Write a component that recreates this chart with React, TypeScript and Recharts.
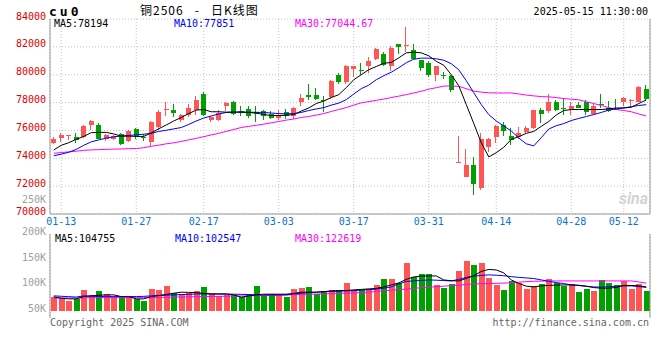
import { Bar, CartesianGrid, ComposedChart, Line, ReferenceLine, XAxis, YAxis } from 'recharts';

const MONO = '"DejaVu Sans Mono", "Liberation Mono", monospace';
const UP = '#ff5555';
const DOWN = '#00a000';
const GRID = '#c0c0c0';
const FRAME = '#999999';

// trading days shown on the chart
const DATES = [
  '01-10', '01-13', '01-14', '01-15', '01-16', '01-17', '01-20', '01-21', '01-22', '01-23',
  '01-24', '01-27', '02-05', '02-06', '02-07', '02-10', '02-11', '02-12', '02-13', '02-14',
  '02-17', '02-18', '02-19', '02-20', '02-21', '02-24', '02-25', '02-26', '02-27', '02-28',
  '03-03', '03-04', '03-05', '03-06', '03-07', '03-10', '03-11', '03-12', '03-13', '03-14',
  '03-17', '03-18', '03-19', '03-20', '03-21', '03-24', '03-25', '03-26', '03-27', '03-28',
  '03-31', '04-01', '04-02', '04-03', '04-07', '04-08', '04-09', '04-10', '04-11', '04-14',
  '04-15', '04-16', '04-17', '04-18', '04-21', '04-22', '04-23', '04-24', '04-25', '04-28',
  '04-29', '04-30', '05-06', '05-07', '05-08', '05-09', '05-12', '05-13', '05-14', '05-15',
];
const TICK_DATES = ['01-13', '01-27', '02-17', '03-03', '03-17', '03-31', '04-14', '04-28', '05-12'];
const PRICE_TICKS = [70000, 72000, 74000, 76000, 78000, 80000, 82000, 84000];
const VOL_TICKS = [50000, 100000, 150000, 200000];
const VOL_GRID = [1, 2, 3];
const VOL_BASE = 50000;

const OPEN = [
  75120, 75450, 75610, 75540, 75500, 76370, 76420, 75350, 75400, 75710,
  75210, 76090, 75540, 75160, 76280, 77450, 77500, 76780, 77140, 77500,
  78590, 76780, 76780, 77730, 78070, 77420, 77540, 77300, 77420, 77210,
  76870, 77300, 77020, 78020, 78570, 78570, 78210, 78400, 80000, 79470,
  80400, 80350, 80590, 81110, 81470, 80590, 82190, 82070, 81780, 81070,
  80830, 79950, 80000, 79920, 73680, 72660, 73500, 71850, 74830, 75520,
  76400, 75570, 75550, 75870, 76190, 77500, 77370, 78040, 77580, 77570,
  77850, 78040, 77210, 77930, 77620, 77570, 78040, 78180, 78050, 79000,
];
const CLOSE = [
  75350, 75690, 75640, 75300, 76350, 76660, 75420, 75690, 75590, 75000,
  75990, 75520, 75440, 76590, 77350, 77550, 77260, 77120, 77640, 78210,
  77120, 76950, 77280, 77950, 77190, 77260, 77020, 77210, 77020, 76900,
  77070, 77070, 77620, 78330, 78400, 78280, 78090, 79520, 79470, 80590,
  80640, 80330, 81020, 81830, 80710, 81950, 81970, 82110, 81140, 80470,
  80000, 80590, 79950, 78920, 73720, 73500, 72140, 75420, 75400, 76350,
  75950, 75300, 75830, 76190, 77450, 77190, 78020, 77450, 77540, 77730,
  77620, 77330, 77730, 77900, 77420, 77520, 78330, 78210, 79090, 78280,
];
const HIGH = [
  75520, 75780, 75690, 75830, 76420, 76780, 76500, 75760, 75690, 75780,
  76060, 76210, 75710, 76660, 77500, 78060, 77880, 77210, 77880, 78450,
  78730, 77020, 77500, 78020, 78140, 77730, 77730, 77730, 77500, 77370,
  77500, 77540, 77690, 78640, 79350, 79020, 78450, 79590, 80110, 80680,
  80640, 80830, 81280, 81900, 81660, 82070, 82210, 83400, 82190, 81070,
  80980, 80590, 80230, 80000, 75590, 74690, 74120, 75780, 75470, 76420,
  76590, 76190, 76230, 76350, 77500, 77620, 78640, 78210, 78330, 78040,
  78020, 78210, 77870, 78640, 78090, 78280, 78380, 78280, 79160, 79230,
];
const LOW = [
  75040, 75160, 75280, 75120, 75450, 76020, 75350, 75210, 75330, 74930,
  75140, 75350, 75210, 74830, 76060, 77020, 76950, 76590, 76930, 77140,
  77020, 76590, 76660, 77380, 77120, 77020, 76900, 76590, 76780, 76830,
  76780, 76830, 76830, 77730, 78210, 78210, 77300, 78280, 79350, 79350,
  79830, 80000, 80110, 81040, 80640, 80300, 81470, 81660, 81140, 80300,
  79830, 79520, 79690, 78760, 73660, 72660, 71350, 71730, 74450, 75120,
  75590, 74920, 75350, 75780, 76070, 76540, 77260, 77370, 77090, 77090,
  77620, 77140, 77090, 77620, 77330, 77450, 77730, 77730, 78050, 78090,
];

const MA5 = [
  74600, 74930, 75120, 75360, 75570, 75840, 75860, 75860, 75750, 75590,
  75590, 75570, 75570, 75820, 76120, 76390, 76680, 76930, 77210, 77460,
  77500, 77340, 77340, 77310, 77320, 77320, 77290, 77250, 77140, 77070,
  77070, 77090, 77140, 77390, 77610, 77930, 78110, 78360, 78570, 79070,
  79640, 80000, 80360, 80590, 80820, 80880, 81210, 81570, 81620, 81570,
  81360, 80960, 80680, 80000, 79210, 77860, 76500, 75120, 74100, 74400,
  74790, 75360, 75550, 75790, 75930, 76290, 76640, 77110, 77430, 77500,
  77500, 77500, 77500, 77500, 77550, 77610, 77620, 77660, 77930, 78190,
];
const MA10 = [
  74180, 74300, 74430, 74640, 74930, 75180, 75320, 75450, 75540, 75600,
  75640, 75690, 75730, 75790, 75930, 76010, 76110, 76210, 76430, 76680,
  76890, 77040, 77180, 77290, 77310, 77310, 77310, 77300, 77290, 77250,
  77210, 77190, 77210, 77290, 77430, 77540, 77640, 77820, 77960, 78210,
  78610, 79000, 79250, 79640, 79930, 80180, 80500, 80860, 81110, 81190,
  81190, 81140, 81040, 80790, 80360, 79570, 78710, 77860, 77140, 76680,
  76320, 75960, 75460, 75040, 74890, 75480, 76100, 76340, 76490, 76710,
  76860, 77000, 77140, 77290, 77460, 77550, 77610, 77710, 77790, 77850,
];
const MA30 = [
  74360, 74410, 74460, 74510, 74570, 74600, 74620, 74640, 74660, 74670,
  74690, 74700, 74760, 74860, 74940, 75040, 75110, 75210, 75320, 75430,
  75550, 75680, 75790, 75930, 76070, 76210, 76290, 76370, 76450, 76550,
  76640, 76740, 76820, 76930, 77000, 77100, 77210, 77360, 77500, 77640,
  77820, 77980, 78070, 78160, 78250, 78360, 78460, 78570, 78690, 78810,
  78960, 79070, 79180, 79200, 79160, 79000, 78820, 78750, 78700, 78690,
  78690, 78690, 78620, 78540, 78480, 78430, 78410, 78360, 78290, 78240,
  78200, 78060, 77930, 77790, 77640, 77500, 77430, 77340, 77180, 77040,
];

const VOL = [
  77600, 75600, 69800, 73100, 91300, 80900, 88700, 82900, 77600, 77600,
  79500, 73100, 69800, 92600, 90700, 98500, 84200, 82900, 84200, 89300,
  96500, 82900, 78400, 80900, 81500, 76400, 82900, 98500, 80900, 82300,
  80900, 77600, 92600, 94600, 96500, 83400, 88700, 90700, 90700, 104300,
  90700, 90700, 92600, 100400, 112100, 112100, 104300, 144000, 115500, 121900,
  121900, 100400, 95200, 102400, 128400, 147300, 139500, 144000, 114700, 100400,
  90700, 108800, 104900, 92600, 99100, 102400, 112100, 103700, 99100, 102400,
  87400, 92600, 89300, 110200, 104900, 100400, 108200, 92600, 101800, 88700,
];
const VOL_MA5 = [
  77200, 74500, 73100, 73100, 77600, 79000, 80300, 80900, 80900, 77600,
  77600, 73100, 73100, 77600, 79500, 81900, 84200, 86200, 85800, 85400,
  83800, 82900, 82900, 82900, 80900, 76400, 79000, 80900, 82300, 82300,
  82300, 82300, 83800, 86200, 86200, 86200, 87200, 88700, 89100, 89300,
  90700, 91600, 92600, 93600, 96500, 100400, 104300, 111200, 116000, 117600,
  118000, 118000, 110200, 108600, 108200, 113100, 118400, 126800, 130700, 129700,
  123900, 110200, 103400, 97900, 96500, 98500, 99400, 100000, 100400, 100400,
  99800, 97900, 95200, 94000, 94000, 95500, 99400, 99400, 98500, 96500,
];
const VOL_MA10 = [
  79000, 78200, 77400, 76600, 79000, 78400, 77800, 77600, 77600, 77600,
  77600, 77600, 78000, 79000, 79700, 80300, 80900, 81500, 82100, 82700,
  82900, 82700, 82500, 82300, 82300, 81900, 81500, 81100, 80900, 80900,
  80900, 80900, 82900, 84200, 85200, 86200, 87200, 87600, 88200, 88700,
  89300, 90300, 91200, 92200, 94000, 96500, 102400, 107300, 108200, 109200,
  110200, 109600, 109000, 108200, 111200, 115100, 117600, 119000, 120000, 119400,
  118400, 116600, 115100, 114100, 112900, 110200, 107500, 104900, 103000, 100400,
  99100, 97700, 96500, 96100, 96900, 97900, 98500, 98500, 97300, 95500,
];
const VOL_MA30 = [
  74500, 74700, 74900, 75000, 75200, 75400, 75600, 75600, 75600, 75600,
  75600, 75600, 75600, 75600, 76000, 76200, 76600, 76800, 77000, 77400,
  77600, 77800, 78000, 78200, 78600, 78800, 79000, 79300, 79700, 79900,
  80300, 80900, 81300, 81700, 82100, 82500, 82900, 83200, 83600, 84200,
  84800, 85200, 86200, 87600, 88900, 90100, 91100, 92200, 93600, 95000,
  96100, 96900, 97900, 98900, 99800, 101400, 102400, 102700, 103100, 103500,
  103900, 104700, 105700, 106900, 107500, 107800, 108200, 108200, 108200, 108200,
  108200, 108200, 108200, 108200, 108200, 108200, 108200, 108200, 106300, 103700,
];

const rows = DATES.map((d, i) => ({
  d,
  o: OPEN[i],
  c: CLOSE[i],
  h: HIGH[i],
  l: LOW[i],
  ma5: MA5[i],
  ma10: MA10[i],
  ma30: MA30[i],
  v: VOL[i],
  v5: VOL_MA5[i],
  v10: VOL_MA10[i],
  v30: VOL_MA30[i],
}));

const colorOf = (r: any) => (r.c >= r.o ? UP : DOWN);

// candle drawn from the [low, high] range bar; body placed inside it
function Candle(props: any) {
  const { x, y, width, height, payload } = props;
  if (!payload || height == null) return null;
  const k = height / (payload.h - payload.l || 1);
  const top = y + (payload.h - Math.max(payload.o, payload.c)) * k;
  const bodyH = Math.max(1, Math.abs(payload.c - payload.o) * k);
  const cx = Math.round(x + width / 2) - 0.5;
  const col = colorOf(payload);
  return (
    <g shapeRendering="crispEdges">
      <line x1={cx} x2={cx} y1={y} y2={y + height} stroke={col} />
      <rect x={x} y={top} width={width} height={bodyH} fill={col} />
    </g>
  );
}

function VolBar(props: any) {
  const { x, y, width, height, payload } = props;
  if (!payload) return null;
  return <rect x={x} y={y} width={width} height={height} fill={colorOf(payload)} shapeRendering="crispEdges" />;
}

const DateTick = ({ x, y, payload }: any) => (
  <text x={x} y={y} dy={9} textAnchor="middle" fill="#0a74c8" fontSize={10} fontFamily={MONO}>
    {payload.value}
  </text>
);

const PriceTick = ({ x, y, payload }: any) => (
  <text x={x} y={y} dy={0.5} textAnchor="end" fill="#dd0000" fontSize={10} fontFamily={MONO}>
    {payload.value}
  </text>
);

const VolTick = ({ x, y, payload }: any) => (
  <text x={x} y={y} dy={1} textAnchor="end" fill="#a0a0a0" fontSize={10} fontFamily={MONO}>
    {payload.value / 1000 + 'K'}
  </text>
);

export default function App() {
  return (
    <div style={{ position: 'absolute', left: 0, top: 0, width: 660, height: 360, background: '#fff' }}>
      {/* price panel */}
      <div style={{ position: 'absolute', left: 0, top: 0 }}>
        <ComposedChart width={660} height={230} data={rows} margin={{ top: 19, right: 0, bottom: 0, left: 0 }} barCategoryGap={0}>
          <CartesianGrid stroke={GRID} strokeDasharray="1 2" />
          <XAxis
            dataKey="d"
            ticks={TICK_DATES}
            interval={0}
            height={16}
            tickSize={0}
            tickMargin={2}
            tickLine={false}
            axisLine={{ stroke: FRAME }}
            tick={<DateTick />}
          />
          <XAxis xAxisId="top" dataKey="d" orientation="top" height={0} tick={false} tickLine={false} axisLine={{ stroke: FRAME }} />
          <YAxis
            domain={[70000, 84000]}
            ticks={PRICE_TICKS}
            interval={0}
            allowDataOverflow
            width={50}
            tickSize={0}
            tickMargin={4}
            tickLine={false}
            axisLine={{ stroke: FRAME }}
            tick={<PriceTick />}
          />
          <YAxis yAxisId="right" orientation="right" width={10} tick={false} tickLine={false} axisLine={{ stroke: FRAME }} />
          <Bar dataKey={(r: any) => [r.l, r.h]} barSize={5} shape={Candle} isAnimationActive={false} />
          <Line dataKey="ma30" type="linear" stroke="#ff00ff" strokeWidth={1} dot={false} activeDot={false} isAnimationActive={false} />
          <Line dataKey="ma10" type="linear" stroke="#0000ff" strokeWidth={1} dot={false} activeDot={false} isAnimationActive={false} />
          <Line dataKey="ma5" type="linear" stroke="#000000" strokeWidth={1} dot={false} activeDot={false} isAnimationActive={false} />
        </ComposedChart>
      </div>

      {/* volume panel */}
      <div style={{ position: 'absolute', left: 0, top: 220 }}>
        <ComposedChart width={660} height={100} data={rows} margin={{ top: 14, right: 0, bottom: 2, left: 0 }} barCategoryGap={0}>
          <CartesianGrid stroke={GRID} strokeDasharray="1 2" horizontal={false} />
          <XAxis dataKey="d" ticks={TICK_DATES} interval={0} height={0} tick={false} tickLine={false} axisLine={{ stroke: FRAME }} />
          <XAxis xAxisId="top" dataKey="d" orientation="top" height={0} tick={false} tickLine={false} axisLine={{ stroke: FRAME }} />
          <YAxis
            domain={[35700, 200000]}
            ticks={VOL_TICKS}
            interval={0}
            allowDataOverflow
            width={50}
            tickSize={0}
            tickMargin={4}
            tickLine={false}
            axisLine={{ stroke: FRAME }}
            tick={<VolTick />}
          />
          <YAxis yAxisId="grid" domain={[0, 4]} width={0} tick={false} tickLine={false} axisLine={false} />
          <YAxis yAxisId="right" orientation="right" width={10} tick={false} tickLine={false} axisLine={{ stroke: FRAME }} />
          {VOL_GRID.map((g) => (
            <ReferenceLine key={g} yAxisId="grid" y={g} stroke={GRID} strokeDasharray="1 2" />
          ))}
          <Bar dataKey={(r: any) => [VOL_BASE, r.v]} barSize={6} shape={VolBar} isAnimationActive={false} />
          <Line dataKey="v30" type="linear" stroke="#ff00ff" strokeWidth={1} dot={false} activeDot={false} isAnimationActive={false} />
          <Line dataKey="v10" type="linear" stroke="#0000ff" strokeWidth={1} dot={false} activeDot={false} isAnimationActive={false} />
          <Line dataKey="v5" type="linear" stroke="#000000" strokeWidth={1} dot={false} activeDot={false} isAnimationActive={false} />
        </ComposedChart>
      </div>

      {/* titles, legends and footer */}
      <svg width={660} height={360} style={{ position: 'absolute', left: 0, top: 0, pointerEvents: 'none' }}>
        <text x={49} y={16} fontSize={13} fontWeight="bold" letterSpacing={3} fontFamily={MONO} fill="#000">cu0</text>
        <text x={140} y={15} fontSize={12} letterSpacing={1} fontFamily='"Noto Sans CJK SC", sans-serif' fill="#000" style={{ whiteSpace: 'pre' }}>
          {'铜2506   -   日K线图'}
        </text>
        <text x={648} y={15} textAnchor="end" fontSize={10} fontFamily={MONO} fill="#000">2025-05-15 11:30:00</text>

        <text x={54} y={26.5} fontSize={10} fontFamily={MONO} fill="#000">MA5:78194</text>
        <text x={174} y={26.5} fontSize={10} fontFamily={MONO} fill="#0000ff">MA10:77851</text>
        <text x={295} y={26.5} fontSize={10} fontFamily={MONO} fill="#ff00ff">MA30:77044.67</text>

        <text x={46} y={202.5} textAnchor="end" fontSize={10} fontFamily={MONO} fill="#a0a0a0">250K</text>
        <text x={648} y={204} textAnchor="end" fontSize={16} fontStyle="italic" fontWeight="bold" fontFamily="Roboto, sans-serif" fill="#d4d4d4">sina</text>

        <text x={55} y={241.5} fontSize={10} fontFamily={MONO} fill="#000">MA5:104755</text>
        <text x={175} y={241.5} fontSize={10} fontFamily={MONO} fill="#0000ff">MA10:102547</text>
        <text x={295} y={241.5} fontSize={10} fontFamily={MONO} fill="#ff00ff">MA30:122619</text>

        <text x={50} y={326} fontSize={10} fontFamily={MONO} fill="#666">Copyright 2025 SINA.COM</text>
        <text x={649} y={326} textAnchor="end" fontSize={10} fontFamily={MONO} fill="#666">http://finance.sina.com.cn</text>
      </svg>
    </div>
  );
}
